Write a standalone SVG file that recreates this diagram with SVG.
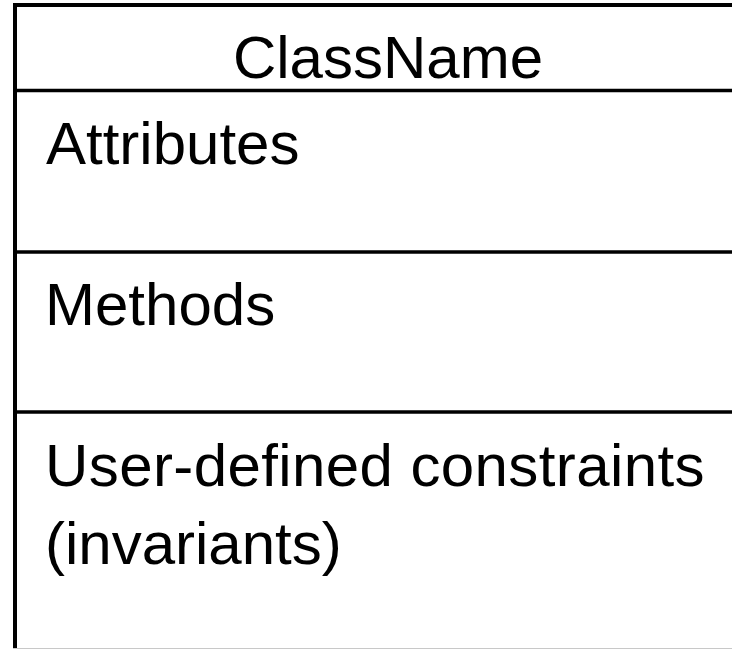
<svg xmlns="http://www.w3.org/2000/svg" width="732" height="649" viewBox="0 0 732 649">
  <style>
    .frame { stroke: #000; stroke-width: 4; fill: none; }
    .rule { stroke: #000; stroke-width: 3.5; fill: none; }
    .label { font-family: "Liberation Sans", Arial, sans-serif; font-size: 60px; fill: #000; }
  </style>
  <rect width="732" height="649" fill="#fff"/>
  <g id="class-box">
    <!-- outer border: top and left edges, right side runs past the canvas -->
    <line class="frame" x1="15" y1="5" x2="740" y2="5"/>
    <line class="frame" x1="15" y1="3" x2="15" y2="649"/>
    <line x1="13" y1="648.5" x2="732" y2="648.5" stroke="#c8c8c8" stroke-width="1"/>
  </g>
  <g id="name-compartment">
    <text class="label" x="388" y="78" text-anchor="middle">ClassName</text>
  </g>
  <g id="attributes-compartment">
    <line class="rule" x1="15" y1="90.5" x2="740" y2="90.5"/>
    <text class="label" x="46" y="164">Attributes</text>
  </g>
  <g id="methods-compartment">
    <line class="rule" x1="15" y1="252" x2="740" y2="252"/>
    <text class="label" x="45" y="325">Methods</text>
  </g>
  <g id="constraints-compartment">
    <line class="rule" x1="15" y1="412" x2="740" y2="412"/>
    <text class="label" x="45" y="486" letter-spacing="0.4">User-defined constraints</text>
    <text class="label" x="45" y="564">(invariants)</text>
  </g>
</svg>
